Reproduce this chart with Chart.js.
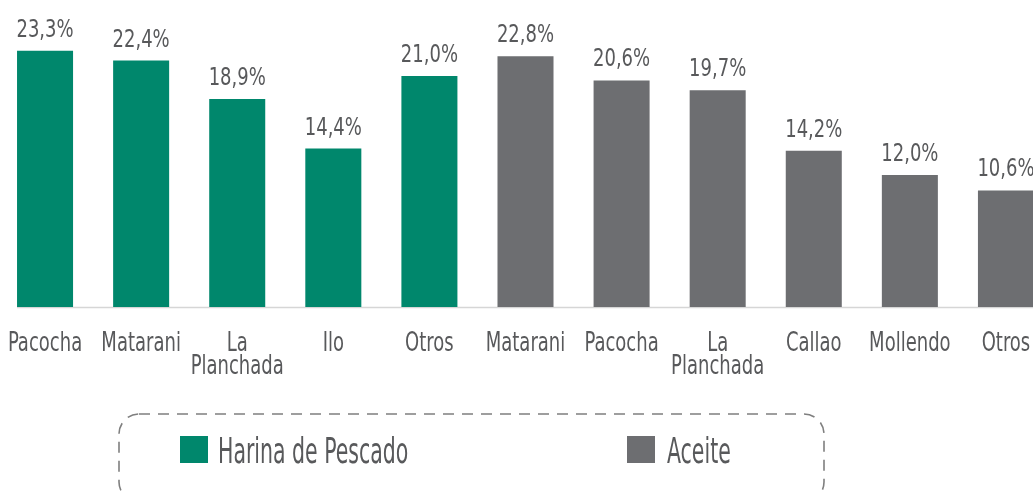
<!DOCTYPE html>
<html>
<head>
<meta charset="utf-8">
<script src="https://cdn.jsdelivr.net/npm/chart.js@4.4.1/dist/chart.umd.min.js"></script>
<style>
  html, body { margin: 0; padding: 0; background: #ffffff; overflow: hidden; }
  body { width: 1033px; height: 492px; position: relative; }
  #wrap { position: absolute; left: -3px; top: 0; width: 1057px; height: 492px; }
</style>
</head>
<body>
<div id="wrap"><canvas id="c"></canvas></div>
<script>
// ---- data ----
const categories = [
  'Pacocha', 'Matarani', ['La', 'Planchada'], 'Ilo', 'Otros',
  'Matarani', 'Pacocha', ['La', 'Planchada'], 'Callao', 'Mollendo', 'Otros'
];
const seriesNames = ['Harina de Pescado', 'Aceite'];
const harinaValues = [23.3, 22.4, 18.9, 14.4, 21.0, null, null, null, null, null, null];
const aceiteValues = [null, null, null, null, null, 22.8, 20.6, 19.7, 14.2, 12.0, 10.6];

// ---- styles ----
const GREEN = '#00876C';
const GRAY = '#6D6E71';
const TEXT = '#58595B';
const FONT = "'Liberation Sans Narrow', 'DejaVu Sans Condensed', 'DejaVu Sans', sans-serif";
const OFF = 3; // canvas is shifted 3px left of the page

function condensedText(ctx, txt, x, y, size, sx, align) {
  ctx.save();
  ctx.translate(x, y);
  ctx.scale(sx, 1);
  ctx.font = size + 'px ' + FONT;
  ctx.textAlign = align;
  ctx.textBaseline = 'alphabetic';
  ctx.fillText(txt, 0, 0);
  ctx.restore();
}

const valueLabels = {
  id: 'valueLabels',
  afterDatasetsDraw(chart) {
    const ctx = chart.ctx;
    ctx.save();
    ctx.fillStyle = TEXT;
    chart.data.datasets.forEach((ds, di) => {
      const meta = chart.getDatasetMeta(di);
      meta.data.forEach((el, i) => {
        const v = ds.data[i];
        if (v === null || v === undefined) return;
        const txt = v.toFixed(1).replace('.', ',') + '%';
        condensedText(ctx, txt, el.x, el.y - 14, 25, 0.8, 'center');
      });
    });
    ctx.restore();
  }
};

const categoryLabels = {
  id: 'categoryLabels',
  afterDraw(chart) {
    const ctx = chart.ctx;
    const xs = chart.scales.x;
    ctx.save();
    ctx.fillStyle = TEXT;
    chart.data.labels.forEach((lab, i) => {
      const x = xs.getPixelForValue(i);
      const lines = Array.isArray(lab) ? lab : [lab];
      lines.forEach((ln, k) => {
        condensedText(ctx, ln, x, 351 + k * 23, 26, 0.77, 'center');
      });
    });
    ctx.restore();
  }
};

const baseLine = {
  id: 'baseLine',
  beforeDatasetsDraw(chart) {
    const ctx = chart.ctx;
    let minX = Infinity, maxX = -Infinity;
    chart.data.datasets.forEach((ds, di) => {
      chart.getDatasetMeta(di).data.forEach((el, i) => {
        if (ds.data[i] === null) return;
        minX = Math.min(minX, el.x - el.width / 2);
        maxX = Math.max(maxX, el.x + el.width / 2);
      });
    });
    const y = chart.scales.y.getPixelForValue(0);
    ctx.save();
    ctx.strokeStyle = '#D6D6D6';
    ctx.lineWidth = 1.5;
    ctx.beginPath();
    ctx.moveTo(minX, y + 0.5);
    ctx.lineTo(maxX, y + 0.5);
    ctx.stroke();
    ctx.restore();
  }
};

const boxLegend = {
  id: 'boxLegend',
  afterDraw(chart) {
    const ctx = chart.ctx;
    ctx.save();
    const bx = 119 + OFF, by = 414, bw = 705, bh = 88, r = 20;
    ctx.strokeStyle = '#7F7F7F';
    ctx.lineWidth = 1.6;
    ctx.setLineDash([11, 8]);
    ctx.beginPath();
    ctx.moveTo(bx + r, by);
    ctx.lineTo(bx + bw - r, by);
    ctx.arcTo(bx + bw, by, bx + bw, by + r, r);
    ctx.lineTo(bx + bw, by + bh - r);
    ctx.arcTo(bx + bw, by + bh, bx + bw - r, by + bh, r);
    ctx.lineTo(bx + r, by + bh);
    ctx.arcTo(bx, by + bh, bx, by + bh - r, r);
    ctx.lineTo(bx, by + r);
    ctx.arcTo(bx, by, bx + r, by, r);
    ctx.closePath();
    ctx.stroke();
    ctx.setLineDash([]);
    const items = [
      { sx: 180, tx: 218 },
      { sx: 627, tx: 667 }
    ];
    chart.data.datasets.forEach((ds, i) => {
      const it = items[i];
      ctx.fillStyle = ds.backgroundColor;
      ctx.fillRect(it.sx + OFF, 436, 28, 27);
      ctx.fillStyle = TEXT;
      condensedText(ctx, ds.label, it.tx + OFF, 463, 35, 0.65, 'left');
    });
    ctx.restore();
  }
};

new Chart(document.getElementById('c'), {
  type: 'bar',
  data: {
    labels: categories,
    datasets: [
      { label: seriesNames[0], data: harinaValues, backgroundColor: GREEN, borderWidth: 0 },
      { label: seriesNames[1], data: aceiteValues, backgroundColor: GRAY, borderWidth: 0 }
    ]
  },
  options: {
    responsive: true,
    maintainAspectRatio: false,
    animation: false,
    layout: { padding: { top: 21, bottom: 185, left: 0, right: 0 } },
    plugins: {
      legend: { display: false },
      tooltip: { enabled: false }
    },
    datasets: { bar: { categoryPercentage: 1.0, barPercentage: 0.583 } },
    scales: {
      x: {
        stacked: true,
        grid: { display: false, drawTicks: false },
        border: { display: false },
        ticks: { display: false }
      },
      y: {
        stacked: true,
        display: false,
        min: 0,
        max: 26
      }
    }
  },
  plugins: [baseLine, valueLabels, categoryLabels, boxLegend]
});
</script>
</body>
</html>
